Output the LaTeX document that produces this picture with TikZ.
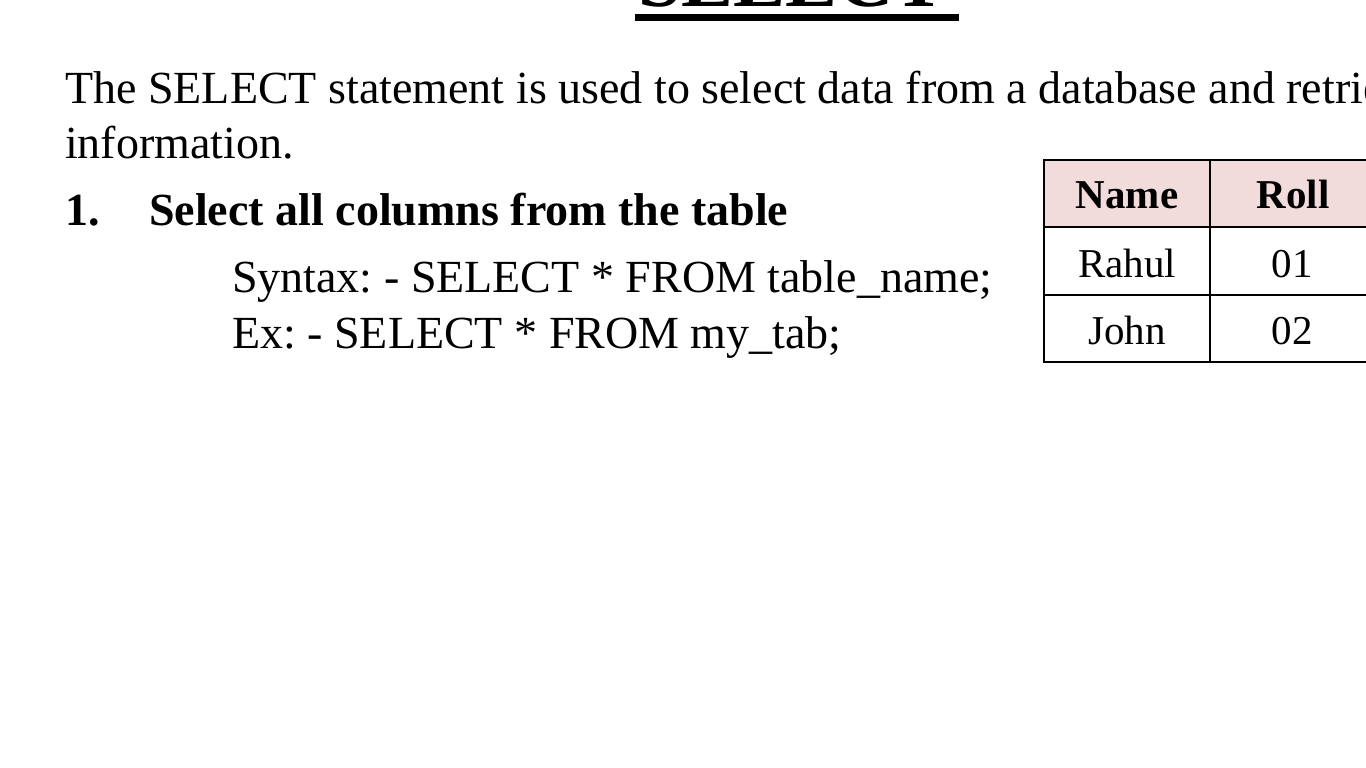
\documentclass[tikz,border=0pt]{standalone}
\usepackage{fontspec}
\setmainfont{Liberation Serif}
\definecolor{hdrpink}{HTML}{F2DCDB}
\begin{document}
\frenchspacing
\begin{tikzpicture}[x=1pt,y=-1pt,
  txt/.style={anchor=base west,inner sep=0pt,font=\fontsize{46}{55}\selectfont},
  btxt/.style={anchor=base west,inner sep=0pt,font=\fontsize{46}{55}\selectfont\bfseries},
  cell/.style={anchor=base,inner sep=0pt,font=\fontsize{41}{48}\selectfont},
  bcell/.style={anchor=base,inner sep=0pt,font=\fontsize{41}{48}\selectfont\bfseries},
  tline/.style={line width=2pt,black}]
\useasboundingbox (0,0) rectangle (1366,768);
\begin{scope}
\clip (0,0) rectangle (1366,768);
\fill[white] (0,0) rectangle (1366,768);
% title
\node[anchor=base west,inner sep=0pt,font=\fontsize{78}{90}\selectfont\bfseries] (title) at (638,7) {SELECT};
\fill (635,14) rectangle (959,21);
% paragraph
\node[txt] (p1) at (65,103) {The SELECT statement is used to select data from a database and retrieve};
\node[txt] (p2) at (65,158) {information.};
\node[btxt] (h1) at (65,225) {1.};
\node[btxt] (h2) at (149,225) {Select all columns from the table};
\node[txt] (s1) at (232,292) {Syntax: - SELECT * FROM table\_name;};
\node[txt] (s2) at (232,348) {Ex: - SELECT * FROM my\_tab;};
% table
\fill[hdrpink] (1044,160) rectangle (1380,227);
\draw[tline] (1380,160) -- (1044,160) -- (1044,362) -- (1380,362);
\draw[tline] (1044,227) -- (1380,227);
\draw[tline] (1044,295) -- (1380,295);
\draw[tline] (1210,160) -- (1210,362);
\node[bcell] (c11) at (1127,208) {Name};
\node[bcell] (c12) at (1293,208) {Roll};
\node[cell] (c21) at (1127,277) {Rahul};
\node[cell] (c22) at (1292,277) {01};
\node[cell] (c31) at (1127,344) {John};
\node[cell] (c32) at (1292,344) {02};
\end{scope}
\end{tikzpicture}
\end{document}
